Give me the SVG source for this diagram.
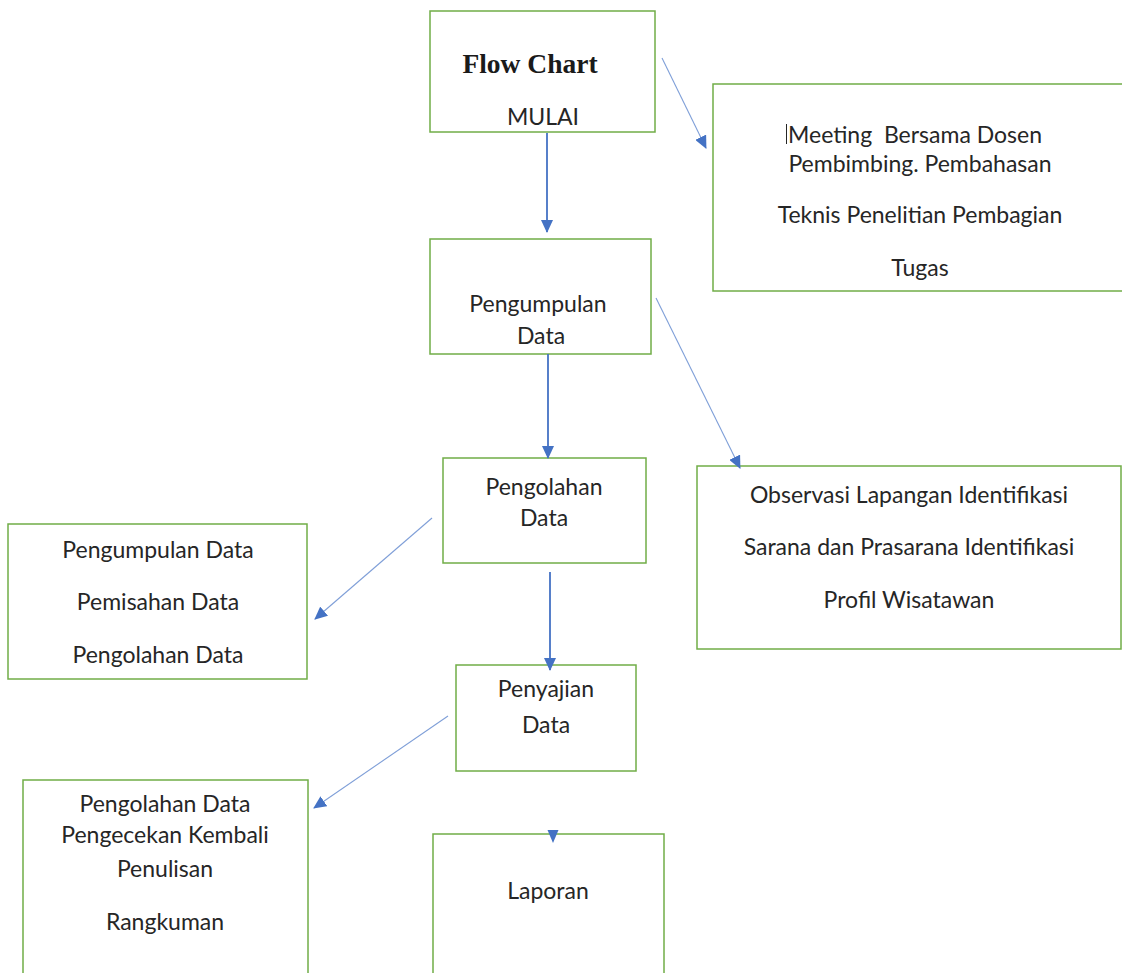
<svg xmlns="http://www.w3.org/2000/svg" width="1122" height="973" viewBox="0 0 1122 973">
<style>
.box{fill:#fff;stroke:#70AD47;stroke-width:1.5}
.t{font-family:Lato,"Open Sans",sans-serif;font-size:23px;fill:#262626;text-anchor:middle}
.main{stroke:#4472C4;stroke-width:1.8;fill:none}
.thin{stroke:#7F9FD8;stroke-width:1.1;fill:none}
</style>
<defs>
<marker id="ah" viewBox="0 0 13 12" refX="12" refY="6" markerWidth="13" markerHeight="12" markerUnits="userSpaceOnUse" orient="auto">
<path d="M0,0 L13,6 L0,12 z" fill="#4472C4"/>
</marker>
</defs>
<rect width="1122" height="973" fill="#fff"/>
<g id="start">
<rect class="box" x="430" y="11" width="225" height="121"/>
<text x="530" y="73" font-family="'Liberation Serif',serif" font-weight="bold" font-size="27.5" fill="#1a1a1a" text-anchor="middle">Flow Chart</text>
<text class="t" x="543" y="125">MULAI</text>
</g>
<g id="meeting">
<rect class="box" x="713" y="84" width="420" height="207"/>
<line x1="786.5" y1="124" x2="786.5" y2="144" stroke="#262626" stroke-width="1"/>
<text class="t" x="915" y="143">Meeting&#160; Bersama Dosen</text>
<text class="t" x="920" y="172">Pembimbing. Pembahasan</text>
<text class="t" x="920" y="223">Teknis Penelitian Pembagian</text>
<text class="t" x="920" y="276">Tugas</text>
</g>
<g id="pengumpulan">
<rect class="box" x="430" y="239" width="221" height="115"/>
<text class="t" x="538" y="312">Pengumpulan</text>
<text class="t" x="541" y="344">Data</text>
</g>
<g id="pengolahan">
<rect class="box" x="443" y="458" width="203" height="105"/>
<text class="t" x="544" y="495">Pengolahan</text>
<text class="t" x="544" y="526">Data</text>
</g>
<g id="observasi">
<rect class="box" x="697" y="466" width="424" height="183"/>
<text class="t" x="909" y="503">Observasi Lapangan Identifikasi</text>
<text class="t" x="909" y="555">Sarana dan Prasarana Identifikasi</text>
<text class="t" x="909" y="608">Profil Wisatawan</text>
</g>
<g id="detail1">
<rect class="box" x="8" y="524" width="299" height="155"/>
<text class="t" x="158" y="558">Pengumpulan Data</text>
<text class="t" x="158" y="610">Pemisahan Data</text>
<text class="t" x="158" y="663">Pengolahan Data</text>
</g>
<g id="penyajian">
<rect class="box" x="456" y="665" width="180" height="106"/>
<text class="t" x="546" y="697">Penyajian</text>
<text class="t" x="546" y="733">Data</text>
</g>
<g id="detail2">
<rect class="box" x="23" y="780" width="285" height="210"/>
<text class="t" x="165" y="812">Pengolahan Data</text>
<text class="t" x="165" y="843">Pengecekan Kembali</text>
<text class="t" x="165" y="877">Penulisan</text>
<text class="t" x="165" y="930">Rangkuman</text>
</g>
<g id="laporan">
<rect class="box" x="433" y="834" width="231" height="160"/>
<text class="t" x="548" y="899">Laporan</text>
</g>
<g id="connectors">
<line class="main" x1="547" y1="133" x2="547" y2="232" marker-end="url(#ah)"/>
<line class="thin" x1="662" y1="58" x2="706" y2="148" marker-end="url(#ah)"/>
<line class="main" x1="548" y1="354" x2="548" y2="458" marker-end="url(#ah)"/>
<line class="thin" x1="656" y1="298" x2="740" y2="468" marker-end="url(#ah)"/>
<line class="thin" x1="432" y1="518" x2="315" y2="619" marker-end="url(#ah)"/>
<line class="main" x1="550" y1="572" x2="550" y2="670" marker-end="url(#ah)"/>
<line class="thin" x1="448" y1="716" x2="314" y2="808" marker-end="url(#ah)"/>
<path d="M547.5,830 L558.5,830 L553,843 z" fill="#4472C4"/>
</g>
</svg>
